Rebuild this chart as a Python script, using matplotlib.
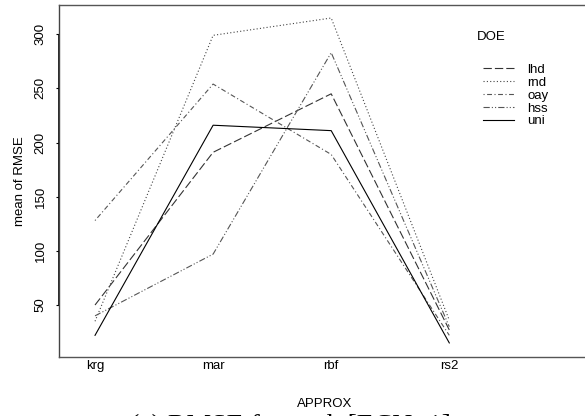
import numpy as np
import matplotlib
matplotlib.use('Agg')
import matplotlib.pyplot as plt

# data
approx = ['krg', 'mar', 'rbf', 'rs2']
lhd = [50, 191, 245, 27]
rnd = [35, 299, 315, 36]
oay = [128, 254, 189, 22]
hss = [40, 97, 283, 30]
uni = [22, 216, 211, 15]
doe_names = ['lhd', 'rnd', 'oay', 'hss', 'uni']
yticks = [50, 100, 150, 200, 250, 300]

plt.rcParams['font.family'] = ['Liberation Sans', 'DejaVu Sans']
plt.rcParams['lines.scale_dashes'] = False

W, H = 585, 416
fig = plt.figure(figsize=(W / 100, H / 100), dpi=100)
# axes box in pixels (right side runs off the figure like the original crop)
l, r, t, b = 59, 591, 5, 357
ax = fig.add_axes([l / W, (H - b) / H, (r - l) / W, (b - t) / H])

styles = [
    dict(dashes=(6, 2.2), color='#333333'),
    dict(dashes=(0.8, 1.6), color='#444444'),
    dict(dashes=(0.8, 1.8, 3.5, 1.8), color='#555555'),
    dict(dashes=(4.5, 1.5, 0.8, 1.5, 0.8, 1.5), color='#555555'),
    dict(linestyle='-', color='black'),
]
series = [lhd, rnd, oay, hss, uni]
x = np.arange(1, len(approx) + 1)
for name, vals, st in zip(doe_names, series, styles):
    ax.plot(x, vals, lw=0.8, label=name, **st)

ax.set_xlim(0.695, 5.2)
ax.set_ylim(2, 327)
ax.set_xticks(x)
ax.set_xticklabels(approx, fontsize=9.5)
ax.set_yticks(yticks)
ax.set_yticklabels([str(v) for v in yticks], fontsize=9.5, rotation=90, va='center')
ax.tick_params(axis='x', length=0, pad=2)
ax.tick_params(axis='y', length=2, width=0.8, pad=7)
for s in ax.spines.values():
    s.set_color('#555555')
    s.set_linewidth(1.0)
ax.spines['left'].set_color('#444444')
ax.vlines(0.695, 50, 300, color='black', lw=1.2, clip_on=False)

ax.set_xlabel('APPROX', fontsize=9.5, labelpad=19)
ax.set_ylabel('mean of RMSE', fontsize=9.5, labelpad=6)

leg = ax.legend(loc='upper left', bbox_to_anchor=(476 / W, 1 - 57 / H),
                bbox_transform=fig.transFigure, frameon=False, fontsize=9.5,
                handlelength=2.4, handletextpad=1.0,
                labelspacing=0.05, borderpad=0)
fig.text(477 / W, 1 - 37 / H, 'DOE', ha='left', va='center', fontsize=9.5)

# caption sits mostly below the bottom edge, as in the cropped original
fig.text(290 / W, -0.040, '(a) RMSE for each [ECN=1]', ha='center', va='baseline',
         fontsize=20, family=['Liberation Serif', 'DejaVu Serif'])

fig.savefig('out.png', dpi=100)
